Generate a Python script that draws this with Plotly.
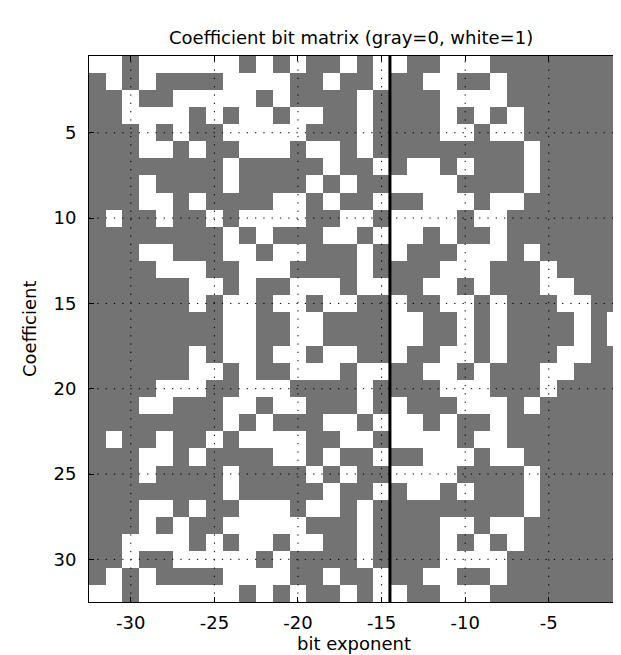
import plotly.graph_objects as go

# bit exponents (columns) and coefficient indices (rows)
exponents = list(range(-32, 0))
coefficients = list(range(1, 33))

# bit rows, one string per coefficient (1 = white, 0 = gray), columns from exponent -32 to -1
bit_rows = [
    "11011111101010010110011100000000",
    "01010000111100100100110010000000",
    "00100111110100001000011110000000",
    "00111101011011001000010101000000",
    "00010100111110001000011011000000",
    "00011010011101101000000000100000",
    "00000000100000100101101000100000",
    "00010000100001010011110000100000",
    "00011010000110100100111011000000",
    "01001001011110011011110110000000",
    "00000000101000110111010010000000",
    "00011000110110001010001110100000",
    "00001110011100001000011100010000",
    "00000011010011101100110100011000",
    "00000010110110110010011010001100",
    "00000000110011000011001010000101",
    "00000000110011000011001010000101",
    "00000010110110110010011010001100",
    "00000011010011101100110100011000",
    "00001110011100001000011100010000",
    "00011000110110001010001110100000",
    "00000000101000110111010010000000",
    "01001001011110011011110110000000",
    "00011010000110100100111011000000",
    "00010000100001010011110000100000",
    "00000000100000100101101000100000",
    "00011010011101101000000000100000",
    "00010100111110001000011011000000",
    "00111101011011001000010101000000",
    "00100111110100001000011110000000",
    "01010000111100100100110010000000",
    "11011111101010010110011100000000",
]

x_ticks = [-30, -25, -20, -15, -10, -5]
y_ticks = [5, 10, 15, 20, 25, 30]
threshold_exponent = -14.5

z = [[int(ch) for ch in row] for row in bit_rows]

FONT = "DejaVu Sans"
GRAY = "#737373"

fig = go.Figure()
fig.add_trace(go.Heatmap(
    x=exponents, y=coefficients, z=z,
    zmin=0, zmax=1,
    colorscale=[[0, GRAY], [0.5, GRAY], [0.5, "#ffffff"], [1, "#ffffff"]],
    showscale=False, hoverinfo="skip",
))

shapes = []
for xv in x_ticks:
    shapes.append(dict(type="line", xref="x", yref="paper", x0=xv, x1=xv, y0=0, y1=1,
                       line=dict(color="black", width=1, dash="1.3px,7px"), layer="above"))
for yv in y_ticks:
    shapes.append(dict(type="line", xref="paper", yref="y", x0=0, x1=1, y0=yv, y1=yv,
                       line=dict(color="black", width=1, dash="1.3px,7px"), layer="above"))
shapes.append(dict(type="line", xref="x", yref="paper", x0=threshold_exponent, x1=threshold_exponent,
                   y0=0, y1=1, line=dict(color="black", width=3), layer="above"))

fig.update_layout(
    width=621, height=655,
    margin=dict(l=81, r=5, t=48, b=61),
    paper_bgcolor="white", plot_bgcolor="white",
    font=dict(family=FONT, size=18, color="black"),
    shapes=shapes,
    showlegend=False,
    annotations=[
        dict(text="Coefficient bit matrix (gray=0, white=1)", xref="paper", yref="paper",
             x=0.49, y=1, yshift=19, xanchor="center", yanchor="middle", showarrow=False,
             font=dict(family=FONT, size=18)),
        dict(text="bit exponent", xref="paper", yref="paper",
             x=0.495, y=0, yshift=-41, xanchor="center", yanchor="middle", showarrow=False,
             font=dict(family=FONT, size=18)),
        dict(text="Coefficient", xref="paper", yref="paper",
             x=0, y=0.5, xshift=-60, xanchor="center", yanchor="middle", textangle=-90,
             showarrow=False, font=dict(family=FONT, size=18)),
    ],
)

fig.update_xaxes(
    range=[-32.5, -0.5], tickvals=x_ticks, ticktext=[str(v) for v in x_ticks],
    ticks="inside", ticklen=5, tickcolor="black", showline=True, linecolor="black",
    linewidth=1, mirror="ticks", showgrid=False, zeroline=False,
    ticklabelstandoff=4, layer="above traces",
)
fig.update_yaxes(
    range=[32.5, 0.5], tickvals=y_ticks, ticktext=[str(v) for v in y_ticks],
    ticks="inside", ticklen=5, tickcolor="black", showline=True, linecolor="black",
    linewidth=1, mirror="ticks", showgrid=False, zeroline=False,
    ticklabelstandoff=8, layer="above traces",
)

fig.write_html("out.html")
